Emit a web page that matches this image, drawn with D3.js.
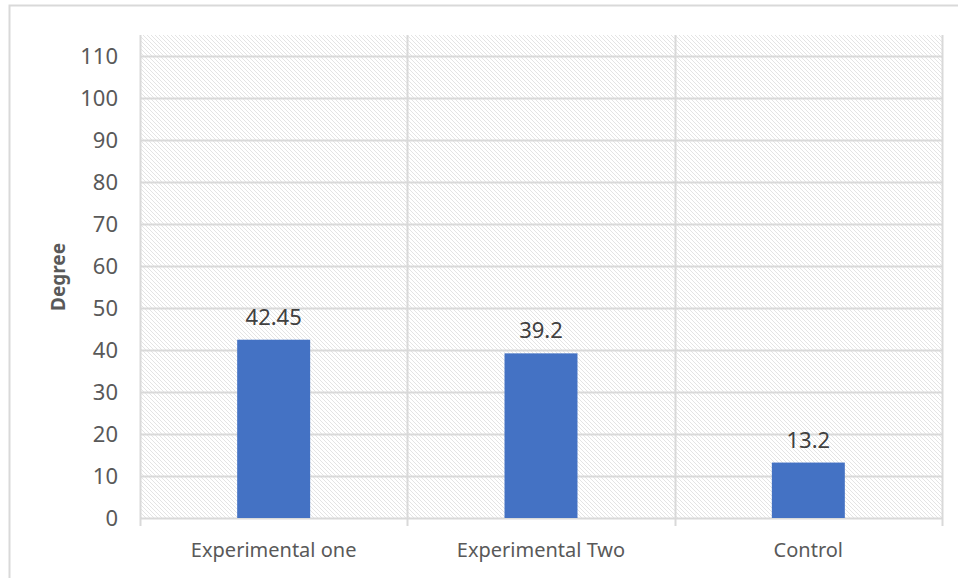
<!DOCTYPE html>
<html>
<head>
<meta charset="utf-8">
<script src="https://cdn.jsdelivr.net/npm/d3@7"></script>
<style>
  body { margin: 0; background: #fff; }
  svg { display: block; }
</style>
</head>
<body>
<svg id="chart"></svg>
<script>
const categories = ["Experimental one", "Experimental Two", "Control"];
const values = [42.45, 39.2, 13.2];
const yTicks = [0, 10, 20, 30, 40, 50, 60, 70, 80, 90, 100, 110];

const width = 958;
const height = 578;
const margin = { top: 35, right: 16, bottom: 60, left: 140 };

const svg = d3.select("#chart").attr("width", width).attr("height", height);

// hatched background pattern
const defs = svg.append("defs");
const pat = defs
  .append("pattern")
  .attr("id", "hatch")
  .attr("patternUnits", "userSpaceOnUse")
  .attr("width", 4)
  .attr("height", 4);
pat.append("rect").attr("width", 4).attr("height", 4).attr("fill", "#fff");
pat
  .append("path")
  .attr("d", "M-1,-1 L5,5 M-1,3 L1,5 M3,-1 L5,1")
  .attr("stroke", "#e4e4e4")
  .attr("stroke-width", 1);

// outer border (cropped chart frame)
svg
  .append("path")
  .attr("d", "M9.5," + height + " L9.5,5.5 L" + width + ",5.5")
  .attr("fill", "none")
  .attr("stroke", "#d9d9d9")
  .attr("stroke-width", 2);

const x = d3
  .scaleBand()
  .domain(categories)
  .range([margin.left, width - margin.right])
  .paddingInner(0)
  .paddingOuter(0);

const y = d3
  .scaleLinear()
  .domain([0, 115])
  .range([height - margin.bottom, margin.top]);

// plot area background
svg
  .append("rect")
  .attr("x", margin.left)
  .attr("y", margin.top)
  .attr("width", width - margin.right - margin.left)
  .attr("height", y(0) - margin.top)
  .attr("fill", "url(#hatch)");

// horizontal gridlines
svg
  .selectAll("line.grid")
  .data(yTicks)
  .enter()
  .append("line")
  .attr("class", "grid")
  .attr("x1", margin.left)
  .attr("x2", width - margin.right)
  .attr("y1", (d) => Math.round(y(d)) + 0.5)
  .attr("y2", (d) => Math.round(y(d)) + 0.5)
  .attr("stroke", "#d9d9d9")
  .attr("stroke-width", 2);

// vertical category dividers
const edges = categories.map((c) => x(c)).concat([x(categories[2]) + x.bandwidth()]);
svg
  .selectAll("line.vdiv")
  .data(edges)
  .enter()
  .append("line")
  .attr("class", "vdiv")
  .attr("x1", (d) => Math.round(d) + 0.5)
  .attr("x2", (d) => Math.round(d) + 0.5)
  .attr("y1", margin.top)
  .attr("y2", y(0) + 8)
  .attr("stroke", "#d9d9d9")
  .attr("stroke-width", 2);

const font = "'Noto Sans', 'Open Sans', sans-serif";

// y axis labels
svg
  .selectAll("text.ytick")
  .data(yTicks)
  .enter()
  .append("text")
  .attr("class", "ytick")
  .attr("x", 118)
  .attr("y", (d) => y(d))
  .attr("dy", "0.35em")
  .attr("text-anchor", "end")
  .attr("fill", "#595959")
  .style("font-family", font)
  .style("font-size", "22px")
  .text((d) => d);

// bars
const barW = x.bandwidth() * 0.273;
svg
  .selectAll("rect.bar")
  .data(values)
  .enter()
  .append("rect")
  .attr("class", "bar")
  .attr("x", (d, i) => x(categories[i]) + x.bandwidth() / 2 - barW / 2)
  .attr("y", (d) => y(d))
  .attr("width", barW)
  .attr("height", (d) => y(0) - y(d))
  .attr("fill", "#4472c4");

// value labels
svg
  .selectAll("text.val")
  .data(values)
  .enter()
  .append("text")
  .attr("class", "val")
  .attr("x", (d, i) => x(categories[i]) + x.bandwidth() / 2)
  .attr("y", (d) => y(d) - 15)
  .attr("text-anchor", "middle")
  .attr("fill", "#404040")
  .style("font-family", font)
  .style("font-size", "22px")
  .text((d) => d);

// category labels
svg
  .selectAll("text.cat")
  .data(categories)
  .enter()
  .append("text")
  .attr("class", "cat")
  .attr("x", (d) => x(d) + x.bandwidth() / 2)
  .attr("y", y(0) + 39)
  .attr("text-anchor", "middle")
  .attr("fill", "#595959")
  .style("font-family", font)
  .style("font-size", "20px")
  .text((d) => d);

// y axis title
svg
  .append("text")
  .attr("transform", "translate(65," + 277 + ") rotate(-90)")
  .attr("text-anchor", "middle")
  .attr("fill", "#595959")
  .style("font-family", font)
  .style("font-size", "19px")
  .style("font-weight", "bold")
  .text("Degree");
</script>
</body>
</html>
